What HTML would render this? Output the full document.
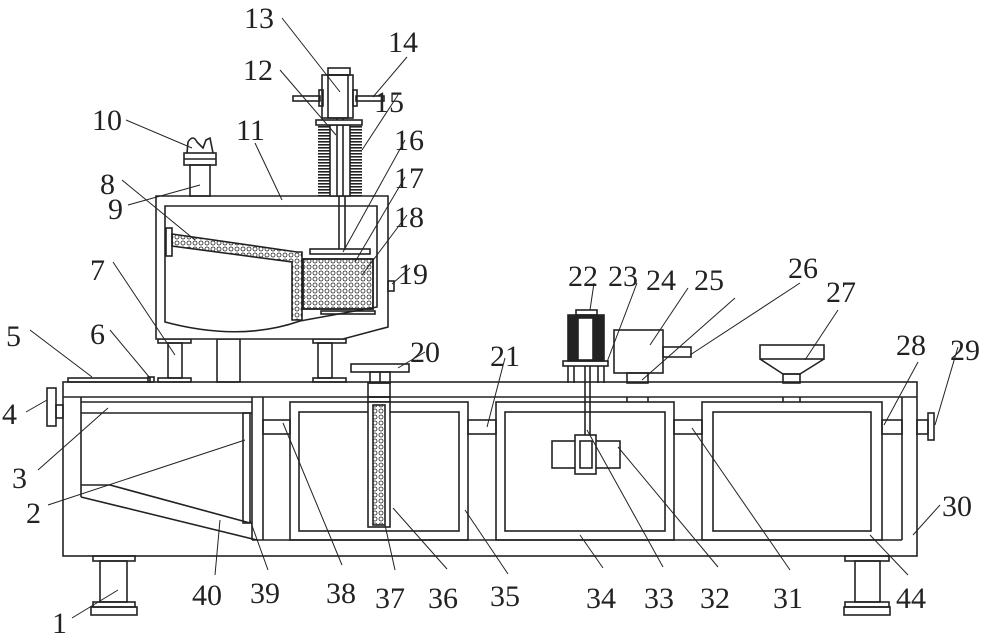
<!DOCTYPE html>
<html><head><meta charset="utf-8"><style>
html,body{margin:0;padding:0;background:#fff;}
svg{display:block;}
text{font-family:"Liberation Serif",serif;font-size:30px;fill:#222;}
</style></head><body>
<svg width="1000" height="636" viewBox="0 0 1000 636" xmlns="http://www.w3.org/2000/svg">
<defs>
<pattern id="dots" width="6" height="6" patternUnits="userSpaceOnUse">
<circle cx="3" cy="3" r="2" fill="none" stroke="#222" stroke-width="0.8"/>
</pattern>
<pattern id="coil" width="4" height="3" patternUnits="userSpaceOnUse">
<rect width="4" height="1.6" fill="#222"/>
</pattern>
</defs>
<g fill="none" stroke="#222" stroke-width="1.6">
<rect x="63" y="382" width="854" height="174" fill="#fff"/>
<line x1="63" y1="397" x2="917" y2="397"/>
<line x1="81" y1="397" x2="81" y2="497"/>
<line x1="81" y1="402" x2="252" y2="402"/>
<line x1="81" y1="413" x2="252" y2="413"/>
<line x1="81" y1="485" x2="110" y2="485"/>
<line x1="110" y1="485" x2="250" y2="523"/>
<line x1="81" y1="497" x2="257" y2="540"/>
<rect x="243" y="413" width="7" height="110"/>
<line x1="252" y1="397" x2="252" y2="540"/>
<line x1="263" y1="397" x2="263" y2="540"/>
<line x1="252" y1="540" x2="902" y2="540"/>
<line x1="902" y1="397" x2="902" y2="540"/>
<rect x="263" y="420" width="27" height="14"/>
<rect x="468" y="420" width="28" height="14"/>
<rect x="674" y="420" width="28" height="14"/>
<rect x="882" y="420" width="20" height="14"/>
<rect x="290" y="402" width="178" height="138"/>
<rect x="299" y="412" width="160" height="119"/>
<rect x="496" y="402" width="178" height="138"/>
<rect x="505" y="412" width="160" height="119"/>
<rect x="702" y="402" width="180" height="138"/>
<rect x="713" y="412" width="158" height="119"/>
<rect x="368" y="383" width="22" height="14"/>
<rect x="368" y="397" width="22" height="5"/>
<rect x="368" y="402" width="22" height="125" fill="#fff"/>
<rect x="373" y="405" width="12" height="120" fill="url(#dots)"/>
<rect x="351" y="364" width="58" height="8"/>
<rect x="370" y="372" width="20" height="11"/>
<line x1="380" y1="372" x2="380" y2="383"/>
<rect x="56" y="405" width="7" height="13"/>
<rect x="47" y="388" width="9" height="38"/>
<rect x="917" y="420" width="11" height="14"/>
<rect x="928" y="413" width="6" height="27"/>
<rect x="93" y="556" width="42" height="5"/>
<rect x="100" y="561" width="27" height="41"/>
<rect x="93" y="602" width="42" height="5"/>
<rect x="91" y="607" width="46" height="8"/>
<rect x="845" y="556" width="44" height="5"/>
<rect x="855" y="561" width="25" height="41"/>
<rect x="845" y="602" width="44" height="5"/>
<rect x="844" y="607" width="46" height="8"/>
<rect x="568" y="315" width="36" height="46" fill="#222"/>
<rect x="578" y="318" width="15" height="42" fill="#fff"/>
<rect x="576" y="310" width="21" height="5"/>
<rect x="563" y="361" width="45" height="5"/>
<line x1="568" y1="366" x2="568" y2="383"/><line x1="574" y1="366" x2="574" y2="383"/>
<line x1="598" y1="366" x2="598" y2="383"/><line x1="604" y1="366" x2="604" y2="383"/>
<line x1="585" y1="366" x2="585" y2="435"/><line x1="590" y1="366" x2="590" y2="435"/>
<rect x="552" y="441" width="68" height="27" fill="#fff"/>
<rect x="575" y="435" width="21" height="39" fill="#fff"/>
<rect x="580" y="441" width="12" height="27"/>
<rect x="614" y="330" width="49" height="43"/>
<rect x="663" y="347" width="28" height="10"/>
<rect x="627" y="373" width="21" height="10"/>
<line x1="627" y1="397" x2="627" y2="402"/><line x1="648" y1="397" x2="648" y2="402"/>
<rect x="760" y="345" width="64" height="14"/>
<path d="M760 359 L783 374 L800 374 L824 359"/>
<rect x="783" y="374" width="17" height="9"/>
<line x1="783" y1="397" x2="783" y2="402"/><line x1="800" y1="397" x2="800" y2="402"/>
<rect x="68" y="378" width="82" height="4"/>
<rect x="148" y="377" width="6" height="5"/>
<rect x="158" y="339" width="33" height="4"/>
<rect x="168" y="343" width="14" height="35"/>
<rect x="158" y="378" width="33" height="4"/>
<rect x="313" y="339" width="33" height="4"/>
<rect x="318" y="343" width="14" height="35"/>
<rect x="313" y="378" width="33" height="4"/>
<rect x="217" y="339" width="23" height="43"/>
<path d="M156 196 L388 196 L388 327 L343 339 L156 339 Z" fill="#fff"/>
<path d="M165 206 L377 206 L377 307 L300 321 Q240 342 165 322 Z"/>
<rect x="166" y="228" width="6" height="28"/>
<path d="M172 234 L297 252 L302 252 L302 320 L292 320 L292 262 L172 246 Z" fill="url(#dots)"/>
<rect x="303" y="259" width="70" height="50" fill="url(#dots)"/>
<rect x="303" y="259" width="70" height="50"/>
<rect x="310" y="249" width="60" height="5"/>
<rect x="321" y="311" width="54" height="3"/>
<line x1="339" y1="196" x2="339" y2="249"/><line x1="345" y1="196" x2="345" y2="249"/>
<rect x="388" y="281" width="6" height="10"/>
<rect x="190" y="165" width="20" height="31"/>
<rect x="184" y="153" width="32" height="12"/>
<line x1="184" y1="159" x2="216" y2="159"/>
<path d="M187 153 L188 142 Q193 134 197 142 L203 148 L206 140 L210 138 L213 153"/>
<rect x="318" y="125" width="44" height="71" fill="url(#coil)" stroke="none"/>
<rect x="330" y="125" width="20" height="71" fill="#fff"/>
<line x1="337" y1="118" x2="337" y2="196"/><line x1="343" y1="118" x2="343" y2="196"/>
<rect x="316" y="120" width="46" height="5" fill="#fff"/>
<rect x="322" y="75" width="31" height="43" fill="#fff"/>
<rect x="328" y="75" width="20" height="43"/>
<rect x="328" y="68" width="22" height="7"/>
<rect x="293" y="96" width="27" height="5"/>
<rect x="356" y="96" width="28" height="5"/>
<rect x="319" y="90" width="4" height="16"/>
<rect x="353" y="90" width="4" height="16"/>
</g>
<g stroke="#222" stroke-width="1" fill="none">
<line x1="72" y1="618" x2="118" y2="590"/>
<line x1="48" y1="505" x2="245" y2="440"/>
<line x1="38" y1="470" x2="108" y2="408"/>
<line x1="26" y1="412" x2="47" y2="400"/>
<line x1="30" y1="330" x2="92" y2="377"/>
<line x1="110" y1="330" x2="150" y2="378"/>
<line x1="113" y1="262" x2="175" y2="355"/>
<line x1="122" y1="180" x2="195" y2="240"/>
<line x1="128" y1="205" x2="200" y2="185"/>
<line x1="126" y1="120" x2="192" y2="148"/>
<line x1="255" y1="143" x2="282" y2="200"/>
<line x1="280" y1="70" x2="336" y2="135"/>
<line x1="282" y1="18" x2="340" y2="92"/>
<line x1="407" y1="57" x2="373" y2="97"/>
<line x1="398" y1="95" x2="362" y2="150"/>
<line x1="405" y1="140" x2="343" y2="252"/>
<line x1="405" y1="177" x2="355" y2="262"/>
<line x1="407" y1="215" x2="362" y2="275"/>
<line x1="410" y1="268" x2="392" y2="284"/>
<line x1="425" y1="352" x2="398" y2="368"/>
<line x1="505" y1="358" x2="487" y2="427"/>
<line x1="594" y1="283" x2="590" y2="310"/>
<line x1="637" y1="283" x2="607" y2="362"/>
<line x1="688" y1="288" x2="650" y2="345"/>
<line x1="735" y1="298" x2="642" y2="380"/>
<line x1="800" y1="283" x2="690" y2="355"/>
<line x1="838" y1="310" x2="805" y2="360"/>
<line x1="918" y1="362" x2="884" y2="425"/>
<line x1="958" y1="347" x2="935" y2="425"/>
<line x1="940" y1="505" x2="913" y2="535"/>
<line x1="790" y1="570" x2="692" y2="428"/>
<line x1="718" y1="567" x2="618" y2="447"/>
<line x1="663" y1="567" x2="587" y2="430"/>
<line x1="603" y1="568" x2="580" y2="535"/>
<line x1="508" y1="574" x2="465" y2="510"/>
<line x1="447" y1="569" x2="393" y2="508"/>
<line x1="395" y1="570" x2="385" y2="525"/>
<line x1="342" y1="565" x2="283" y2="423"/>
<line x1="268" y1="570" x2="250" y2="520"/>
<line x1="215" y1="575" x2="220" y2="520"/>
<line x1="908" y1="575" x2="870" y2="535"/>
</g>
<g>
<text x="52" y="633">1</text>
<text x="26" y="523">2</text>
<text x="12" y="488">3</text>
<text x="2" y="424">4</text>
<text x="6" y="346">5</text>
<text x="90" y="344">6</text>
<text x="90" y="280">7</text>
<text x="100" y="194">8</text>
<text x="108" y="219">9</text>
<text x="92" y="130">10</text>
<text x="236" y="140">11</text>
<text x="243" y="80">12</text>
<text x="244" y="28">13</text>
<text x="388" y="52">14</text>
<text x="374" y="112">15</text>
<text x="394" y="150">16</text>
<text x="394" y="188">17</text>
<text x="394" y="227">18</text>
<text x="398" y="284">19</text>
<text x="410" y="362">20</text>
<text x="490" y="366">21</text>
<text x="568" y="286">22</text>
<text x="608" y="286">23</text>
<text x="646" y="290">24</text>
<text x="694" y="290">25</text>
<text x="788" y="278">26</text>
<text x="826" y="302">27</text>
<text x="896" y="355">28</text>
<text x="950" y="360">29</text>
<text x="942" y="516">30</text>
<text x="773" y="608">31</text>
<text x="700" y="608">32</text>
<text x="644" y="608">33</text>
<text x="586" y="608">34</text>
<text x="490" y="606">35</text>
<text x="428" y="608">36</text>
<text x="375" y="608">37</text>
<text x="326" y="603">38</text>
<text x="250" y="603">39</text>
<text x="192" y="605">40</text>
<text x="896" y="608">44</text>
</g>
</svg>
</body></html>
